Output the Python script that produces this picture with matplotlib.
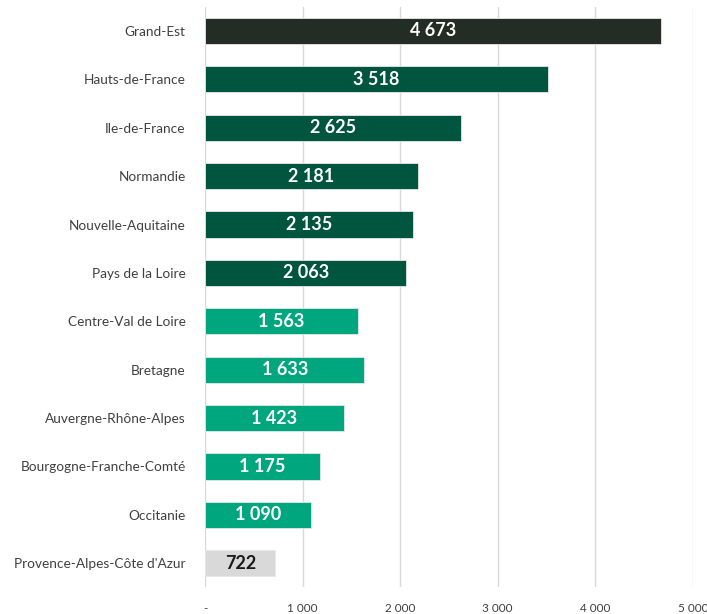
import matplotlib
matplotlib.use("Agg")
import matplotlib.pyplot as plt

regions = ["Grand-Est", "Hauts-de-France", "Ile-de-France", "Normandie",
           "Nouvelle-Aquitaine", "Pays de la Loire", "Centre-Val de Loire",
           "Bretagne", "Auvergne-Rhône-Alpes", "Bourgogne-Franche-Comté",
           "Occitanie", "Provence-Alpes-Côte d'Azur"]
valeurs = [4673, 3518, 2625, 2181, 2135, 2063, 1563, 1633, 1423, 1175, 1090, 722]
couleurs = ["#232d26"] + ["#00553f"] * 5 + ["#00a67e"] * 5 + ["#d9d9d9"]
ticks = [0, 1000, 2000, 3000, 4000, 5000]
tick_labels = ["-", "1 000", "2 000", "3 000", "4 000", "5 000"]

plt.rcParams['font.family'] = ['Lato', 'DejaVu Sans']

fig = plt.figure(figsize=(7.07, 6.14), dpi=100)
ax = fig.add_axes([0.29, 0.0433, 0.69, 0.9457])

pos = list(range(len(regions)))
ax.barh(pos, valeurs, height=0.54, color=couleurs, edgecolor="#e8e8e8",
        linewidth=0.6, zorder=3)

for i, v in enumerate(valeurs):
    txt = f"{v:,}".replace(",", " ")
    c = "#1a1a1a" if i == len(valeurs) - 1 else "white"
    ax.text(v / 2, i, txt, ha="center", va="center", color=c,
            fontsize=13, fontweight="bold", zorder=4)

ax.set_ylim(len(regions) - 0.5, -0.5)
ax.set_xlim(0, 5000)
ax.set_yticks(pos)
ax.set_yticklabels(regions, fontsize=9.8, color="#404040")
ax.set_xticks(ticks)
ax.set_xticklabels(tick_labels, fontsize=8.5, color="#404040")
ax.tick_params(axis="both", length=0)
ax.tick_params(axis="y", pad=14)
ax.tick_params(axis="x", pad=11)
ax.grid(axis="x", color="#d9d9d9", linewidth=1, zorder=0)
for s in ax.spines.values():
    s.set_visible(False)

fig.savefig("out.png", dpi=100)
